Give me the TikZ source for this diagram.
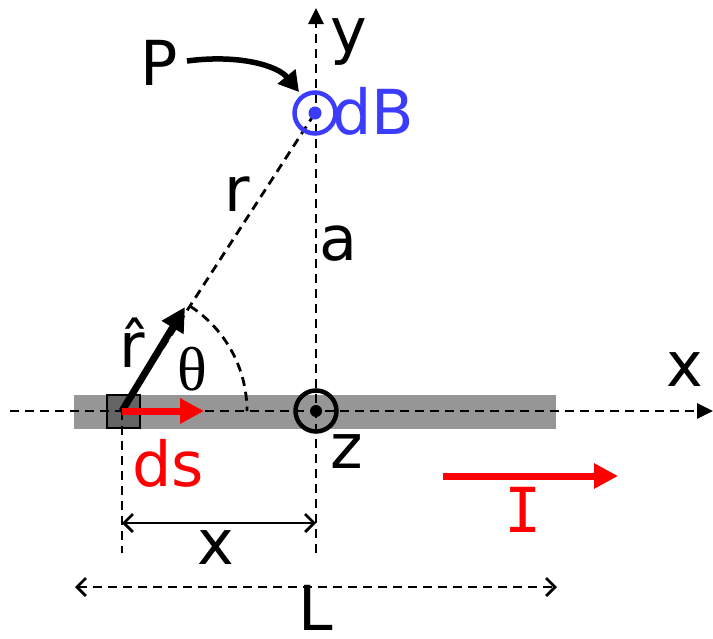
\documentclass[tikz,border=0pt]{standalone}
\usepackage{fontspec}
\setmainfont{DejaVu Sans}
\newfontfamily\monofnt{DejaVu Sans Mono}
\newfontfamily\serifnt{Liberation Serif}
\usetikzlibrary{arrows.meta}
\definecolor{myblue}{RGB}{60,60,255}
\definecolor{bargray}{RGB}{150,150,150}
\definecolor{boxgray}{RGB}{100,100,100}
\begin{document}
\begin{tikzpicture}[x=1pt,y=-1pt,
  dashln/.style={line width=2.8pt,dash pattern=on 9pt off 6pt},
  lbl/.style={inner sep=0pt,font=\fontsize{62}{70}\selectfont},
  axistip/.style={-{Triangle[length=16pt,width=15pt]}},
  dimbarb/.tip={Straight Barb[length=9pt,width=18pt,line width=2.8pt]},
  thickarrow/.style={line width=7pt,-{Triangle[length=24pt,width=24pt]}}]
\useasboundingbox (0,0) rectangle (713,638);
% coordinates
\coordinate (O) at (122,411);
\coordinate (Z) at (316,411);
\coordinate (Pt) at (315,113);
\coordinate (xl) at (10,411);
\coordinate (xr) at (713,411);
\coordinate (yb) at (316,553);
\coordinate (yt) at (316,8);
\coordinate (ob) at (122,553);
\coordinate (rtip) at (185,307);
\coordinate (dstip) at (204,411);
\coordinate (xa) at (122,523);
\coordinate (xb) at (316,523);
\coordinate (La) at (75,587);
\coordinate (Lb) at (557,587);
\coordinate (Ia) at (443,476);
\coordinate (Ib) at (618,476);
\coordinate (Pa) at (187,61);
\coordinate (Pb) at (299,92);
% bar and element
\fill[bargray] (74,395) rectangle (556,429);
\filldraw[fill=boxgray,draw=black,line width=2pt] (107,395) rectangle (140,428);
% axes and guides
\draw[dashln,axistip] (xl) -- (xr);
\draw[dashln,axistip] (yb) -- (yt);
\draw[dashln] (O) -- (ob);
\draw[dashln] (O) -- (Pt);
\draw[dashln] ([shift={(57:125pt)}]O) arc[start angle=57,end angle=0,radius=125pt];
% arrows
\draw[thickarrow] (O) -- (rtip);
\draw[thickarrow,red] (O) -- (dstip);
\draw[thickarrow,red] (Ia) -- (Ib);
% circles
\node[circle,draw=black,line width=4.5pt,minimum size=41pt,inner sep=0pt] (zc) at (Z) {};
\fill[black] (zc.center) circle (6pt);
\node[circle,draw=myblue,line width=4.5pt,minimum size=41pt,inner sep=0pt] (dbc) at (Pt) {};
\fill[myblue] (dbc.center) circle (6.5pt);
% P arrow
\draw[line width=5.5pt,-{Triangle[length=20pt,width=22pt]}] (Pa) .. controls (240,54) and (278,66) .. (Pb);
% dimensions
\draw[line width=2.8pt,dimbarb-dimbarb] (xa) -- (xb);
\draw[dashln,dimbarb-dimbarb] (La) -- (Lb);
% labels
\node[lbl] (lP) at (159,63) {P};
\node[lbl] (ly) at (349,42) {y};
\node[lbl,text=myblue] (ldB) at (373,111) {dB};
\node[lbl] (lr) at (237,194) {r};
\node[lbl] (la) at (338,244) {a};
\node[lbl] (lrh) at (132,343) {r̂};
\node[lbl,font=\serifnt\fontsize{62}{70}\selectfont] (lth) at (192,369) {θ};
\node[lbl] (lx) at (685,370) {x};
\node[lbl,text=red] (lds) at (168,463) {ds};
\node[lbl] (lz) at (347,452) {z};
\node[lbl,text=red,font=\monofnt\fontsize{62}{70}\selectfont] (lI) at (523,510) {I};
\node[lbl] (lxd) at (216,548) {x};
\node[lbl] (lL) at (316,608) {L};
\end{tikzpicture}
\end{document}
